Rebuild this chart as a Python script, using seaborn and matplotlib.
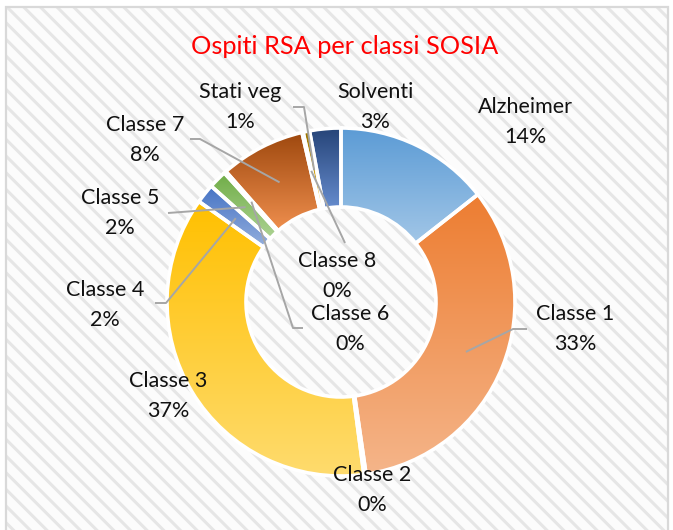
import colorsys
import numpy as np
import matplotlib
matplotlib.use("Agg")
import matplotlib.pyplot as plt
from matplotlib.colors import to_rgb
from matplotlib.patches import Rectangle
import seaborn as sns

# ---------------- data ----------------
categories = ["Alzheimer", "Classe 1", "Classe 2", "Classe 3", "Classe 4",
              "Classe 5", "Classe 6", "Classe 7", "Classe 8", "Stati veg", "Solventi"]
shares = [14.4, 33.3, 0.2, 36.9, 1.8, 1.7, 0.2, 7.9, 0.1, 0.6, 2.9]
title = "Ospiti RSA per classi SOSIA"

# ---------------- style ----------------
colors = ["#5B9BD5", "#ED7D31", "#A5A5A5", "#FFC000", "#4472C4", "#70AD47",
          "#255E91", "#9E480E", "#636363", "#997300", "#264478"]

sns.set_theme(style="white")
plt.rcParams["font.family"] = ["Lato", "DejaVu Sans"]
plt.rcParams["hatch.linewidth"] = 2.2

W, H = 673, 530
CX, CY = 341, 302          # donut centre in pixels (from top-left)
R_OUT, R_IN = 174, 95

# label centres in pixels (from top-left)
label_pos = {
    "Alzheimer": (525, 122), "Classe 1": (575, 329), "Classe 2": (372, 490),
    "Classe 3": (168, 396), "Classe 4": (105, 305), "Classe 5": (120, 213),
    "Classe 6": (350, 329), "Classe 7": (145, 140), "Classe 8": (337, 276),
    "Stati veg": (240, 107), "Solventi": (375, 107),
}
# leader lines: start point and optional elbow, pixels
leaders = {
    "Classe 1": [(527, 329), (513, 329)],
    "Classe 4": [(155, 303), (166, 303)],
    "Classe 5": [(168, 213)],
    "Classe 6": [(303, 328), (293, 328)],
    "Classe 7": [(190, 139), (200, 139)],
    "Classe 8": [(345, 243)],
    "Stati veg": [(293, 107), (304, 107)],
}


def px(p):
    return (p[0] - CX, CY - p[1])


def lighter(c, f=0.43):
    r, g, b = to_rgb(c)
    h, l, s = colorsys.rgb_to_hls(r, g, b)
    l = l + (1 - l) * f
    return colorsys.hls_to_rgb(h, l, s)


fig = plt.figure(figsize=(W / 100, H / 100), dpi=100)
fig.patch.set_facecolor("white")

# striped chart-area background
bg = Rectangle((6 / W, -0.05), (668 - 6) / W, (H - 7) / H + 0.05,
               transform=fig.transFigure, facecolor="#FCFCFC",
               edgecolor="#E6E6E6", hatch="\\\\", linewidth=0, zorder=-3)
fig.patches.append(bg)
border = Rectangle((6 / W, -0.05), (668 - 6) / W, (H - 7) / H + 0.05,
                   transform=fig.transFigure, facecolor="none",
                   edgecolor="#D9D9D9", linewidth=1.6, zorder=-2)
fig.patches.append(border)

ax = fig.add_axes([0, 0, 1, 1])
ax.patch.set_visible(False)

wedges, _ = ax.pie(shares, radius=R_OUT, startangle=90, counterclock=False,
                   colors=colors,
                   wedgeprops=dict(width=R_OUT - R_IN, edgecolor="white",
                                   linewidth=2.6))

n = 256
t = np.linspace(0, 1, n)[:, None]
for w, c in zip(wedges, colors):
    bb = w.get_path().get_extents()
    top = np.array(to_rgb(c))
    bot = np.array(lighter(c))
    img = ((1 - t) * top + t * bot)[:, None, :]
    im = ax.imshow(img, extent=[bb.x0, bb.x1, bb.y0, bb.y1], origin="upper",
                   aspect="auto", interpolation="bilinear", zorder=1)
    im.set_clip_path(w)
    w.set_facecolor("none")
    w.set_zorder(2)

# leader lines, ending at the middle of each slice
cum = np.cumsum([0] + shares)
total = cum[-1]
r_mid = (R_OUT + R_IN) / 2
for i, cat in enumerate(categories):
    if cat not in leaders:
        continue
    frac = (cum[i] + cum[i + 1]) / 2 / total
    ang = np.deg2rad(90 - 360 * frac)
    end = (r_mid * np.cos(ang), r_mid * np.sin(ang))
    pts = [px(p) for p in leaders[cat]] + [end]
    xs, ys = zip(*pts)
    ax.plot(xs, ys, color="#A6A6A6", lw=1.4, zorder=3, solid_capstyle="butt")

for cat, v in zip(categories, shares):
    x, y = px(label_pos[cat])
    ax.text(x, y, f"{cat}\n{round(v / total * 100):.0f}%", ha="center",
            va="center", fontsize=15.5, color="#111111", linespacing=1.6,
            zorder=4)

ax.text(*px((345, 47)), title, ha="center", va="center", fontsize=18.3,
        color="#FF0000", zorder=4)

ax.set_xlim(-CX, W - CX)
ax.set_ylim(-(H - CY), CY)
ax.axis("off")

fig.savefig("out.png", dpi=100)
